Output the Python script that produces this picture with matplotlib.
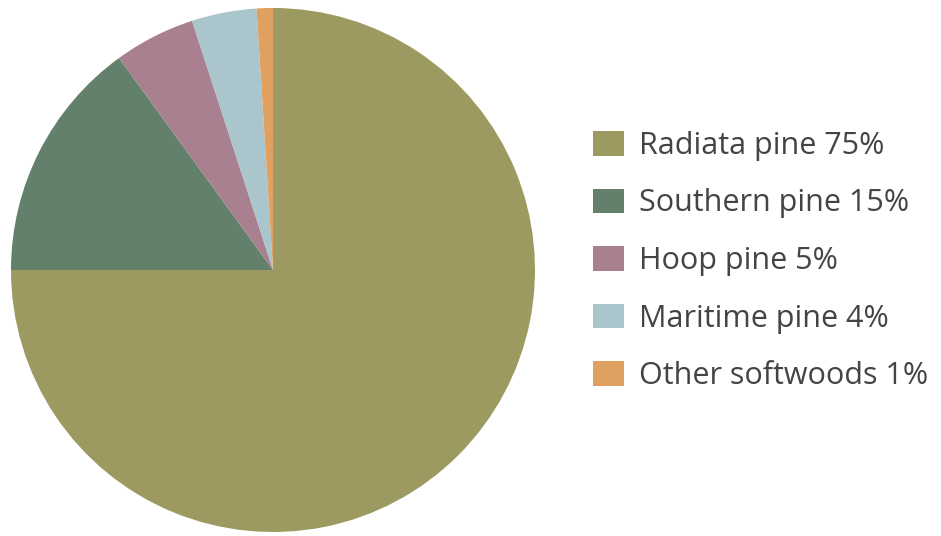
import matplotlib
matplotlib.use('Agg')
import matplotlib.pyplot as plt

# Softwood plantation species share
species = ['Radiata pine', 'Southern pine', 'Hoop pine', 'Maritime pine', 'Other softwoods']
shares = [75, 15, 5, 4, 1]
colors = ['#9c9a60', '#63806a', '#a8808f', '#aac5cb', '#e0a060']

plt.rcParams['font.family'] = ['Open Sans', 'DejaVu Sans']

fig = plt.figure(figsize=(9.41, 5.36), dpi=100)
W, H = 941, 536
cx, cy, r = 273, 270, 262
ax = fig.add_axes([(cx - r) / W, (H - cy - r) / H, 2 * r / W, 2 * r / H])

wedges, _ = ax.pie(shares, colors=colors, startangle=90, counterclock=False,
                   wedgeprops=dict(linewidth=0))
ax.set_xlim(-1, 1)
ax.set_ylim(-1, 1)
ax.set_aspect('equal')

labels = ['%s %d%%' % (s, v) for s, v in zip(species, shares)]
leg = fig.legend(wedges, labels, loc='center left',
                 bbox_to_anchor=(578 / W, 1 - 261 / H),
                 frameon=False, fontsize=22, handlelength=1.0, handleheight=0.85,
                 handletextpad=0.5, labelspacing=0.9, borderpad=0)
for t in leg.get_texts():
    t.set_color('#444444')

fig.savefig('out.png', dpi=100)
